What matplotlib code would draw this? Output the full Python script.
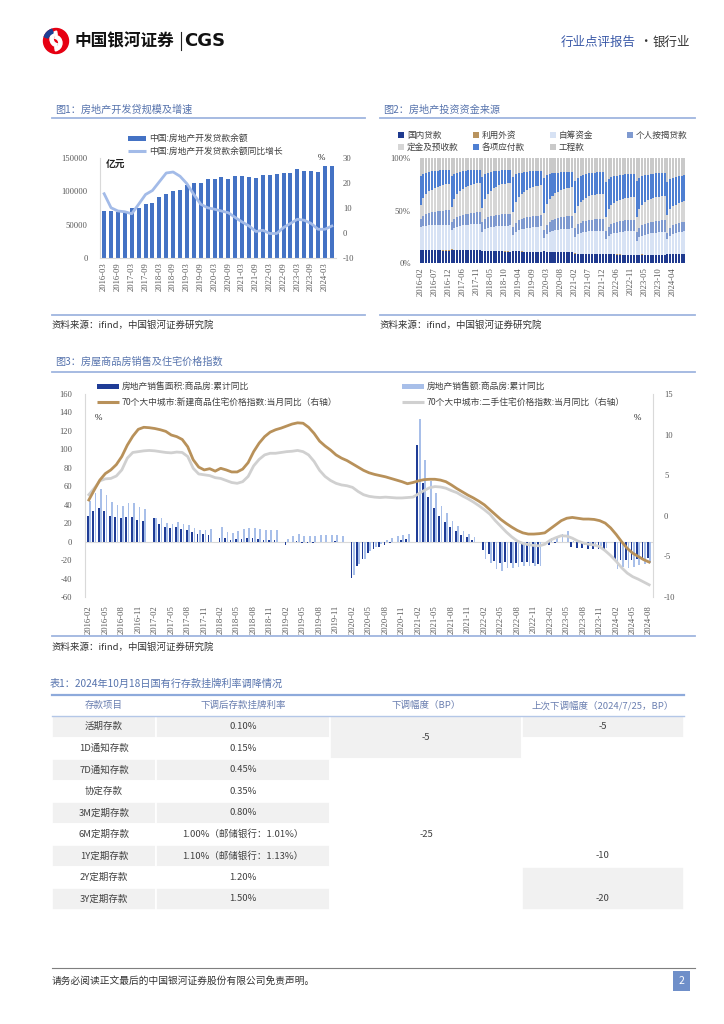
import numpy as np
import pandas as pd
import matplotlib
matplotlib.use("Agg")
import matplotlib.pyplot as plt
from matplotlib.patches import Rectangle, Circle, Wedge

plt.rcParams["font.family"] = ["Noto Sans CJK SC", "DejaVu Sans"]
plt.rcParams["axes.unicode_minus"] = False

# ---------------- 图1 房地产开发贷 (quarterly) ----------------
loan_quarters = pd.date_range("2016-03-01", periods=34, freq="3MS").strftime("%Y-%m")
loan_balance = [70500, 70800, 69500, 70000, 75000, 74800, 80500, 82500, 91000, 96000,
                101000, 102000, 109000, 112000, 112000, 118500, 119000, 121000, 119000, 123500,
                122500, 121000, 120000, 125000, 125000, 126500, 127000, 127000, 133000, 131000,
                131000, 128500, 137500, 137500]
loan_yoy = [15.7, 10.1, 8.8, 8.5, 7.7, 11.5, 15.4, 17.0, 20.5, 24.0,
            24.4, 22.7, 19.7, 15.4, 11.5, 10.1, 9.5, 8.8, 8.1, 6.2,
            4.4, 2.8, 0.6, 1.1, -0.2, -0.2, 2.2, 3.8, 5.5, 5.1,
            3.8, 1.5, 1.5, 2.8]

# ---------------- 图2 房地产投资资金来源 (share, %) ----------------
fund_months = [f"{y}-{m:02d}" for y in range(2016, 2025) for m in range(2, 13)
               if (y, m) <= (2024, 8)]
fund_names = ["国内贷款", "利用外资", "自筹资金", "个人按揭贷款", "定金及预收款", "各项应付款", "工程款"]
domestic_loans = [
    12.4, 12.2, 12.1, 12.0, 12.0, 11.9, 11.9, 11.9, 11.8, 11.8, 11.8,
    12.8, 12.6, 12.5, 12.5, 12.4, 12.4, 12.3, 12.3, 12.2, 12.2, 12.2,
    11.5, 11.3, 11.2, 11.1, 11.0, 11.0, 10.9, 10.9, 10.8, 10.8, 10.8,
    11.2, 11.0, 10.9, 10.8, 10.7, 10.7, 10.6, 10.6, 10.5, 10.5, 10.5,
    11.0, 10.9, 10.8, 10.6, 10.5, 10.4, 10.3, 10.2, 10.1, 10.0, 10.0,
    9.0, 8.9, 8.8, 8.7, 8.6, 8.5, 8.5, 8.4, 8.4, 8.3, 8.3,
    8.2, 8.1, 8.0, 8.0, 7.9, 7.9, 7.8, 7.8, 7.8, 7.8, 7.8,
    8.0, 7.9, 7.9, 7.8, 7.8, 7.8, 7.8, 7.8, 7.8, 7.8, 7.8,
    8.8, 8.8, 8.7, 8.7, 8.6, 8.6, 8.6]
foreign_capital = [
    0.2, 0.2, 0.2, 0.2, 0.2, 0.2, 0.2, 0.2, 0.2, 0.2, 0.2,
    0.2, 0.2, 0.2, 0.2, 0.2, 0.2, 0.2, 0.2, 0.2, 0.2, 0.2,
    0.1, 0.1, 0.1, 0.1, 0.1, 0.1, 0.1, 0.1, 0.1, 0.1, 0.1,
    0.1, 0.1, 0.1, 0.1, 0.1, 0.1, 0.1, 0.1, 0.1, 0.1, 0.1,
    0.1, 0.1, 0.1, 0.1, 0.1, 0.1, 0.1, 0.1, 0.1, 0.1, 0.1,
    0.1, 0.1, 0.1, 0.1, 0.1, 0.1, 0.1, 0.1, 0.1, 0.1, 0.1,
    0.1, 0.1, 0.1, 0.1, 0.1, 0.1, 0.1, 0.1, 0.1, 0.1, 0.1,
    0.1, 0.1, 0.1, 0.1, 0.1, 0.1, 0.1, 0.1, 0.1, 0.1, 0.1,
    0.1, 0.1, 0.1, 0.1, 0.1, 0.1, 0.1]
self_raised = [
    21.4, 22.1, 22.7, 23.1, 23.3, 23.6, 23.7, 23.9, 24.1, 24.2, 24.3,
    18.0, 20.5, 21.8, 22.6, 23.2, 23.6, 24.0, 24.3, 24.6, 24.8, 25.0,
    18.2, 20.3, 21.4, 22.2, 22.8, 23.2, 23.6, 23.9, 24.2, 24.5, 24.8,
    15.0, 18.2, 19.8, 20.8, 21.5, 22.1, 22.6, 23.0, 23.4, 23.8, 24.2,
    13.2, 17.0, 18.5, 19.5, 20.2, 20.8, 21.3, 21.7, 22.1, 22.4, 22.7,
    16.2, 18.3, 19.3, 20.0, 20.6, 21.0, 21.4, 21.7, 22.0, 22.3, 22.5,
    14.3, 17.5, 18.9, 19.8, 20.5, 21.0, 21.5, 21.9, 22.3, 22.6, 22.9,
    13.0, 16.3, 17.7, 18.6, 19.3, 19.9, 20.4, 20.8, 21.2, 21.6, 21.9,
    13.5, 17.0, 18.5, 19.4, 20.2, 20.8, 21.3]
mortgage = [
    8.0, 9.5, 10.5, 11.2, 11.8, 12.3, 12.7, 13.1, 13.5, 13.8, 14.2,
    8.0, 9.0, 9.5, 9.8, 10.1, 10.3, 10.5, 10.7, 10.8, 10.9, 11.0,
    9.0, 9.8, 10.2, 10.4, 10.6, 10.7, 10.8, 10.9, 11.0, 11.0, 11.0,
    8.0, 9.0, 9.5, 9.8, 10.0, 10.1, 10.2, 10.3, 10.4, 10.5, 10.5,
    7.0, 8.8, 9.8, 10.4, 10.8, 11.1, 11.4, 11.6, 11.8, 11.9, 12.0,
    8.0, 9.2, 9.8, 10.2, 10.4, 10.6, 10.7, 10.8, 10.9, 11.0, 11.0,
    7.5, 8.7, 9.3, 9.7, 9.9, 10.1, 10.2, 10.3, 10.4, 10.5, 10.5,
    8.0, 9.2, 9.8, 10.2, 10.4, 10.6, 10.7, 10.8, 10.9, 11.0, 11.0,
    6.5, 7.6, 8.1, 8.4, 8.6, 8.8, 9.0]
deposits_prepay = [
    13.0, 17.0, 19.0, 20.4, 21.4, 22.3, 23.0, 23.6, 24.2, 24.6, 25.0,
    14.0, 19.0, 21.5, 23.2, 24.4, 25.4, 26.2, 26.8, 27.3, 27.7, 28.0,
    13.5, 19.2, 22.0, 24.0, 25.4, 26.5, 27.4, 28.1, 28.7, 29.1, 29.5,
    14.5, 19.5, 22.0, 23.7, 25.0, 26.0, 26.8, 27.4, 27.9, 28.2, 28.5,
    16.0, 19.8, 21.8, 23.2, 24.3, 25.1, 25.7, 26.2, 26.6, 26.8, 27.0,
    14.0, 17.5, 19.3, 20.6, 21.5, 22.2, 22.8, 23.2, 23.6, 23.8, 24.0,
    14.0, 16.7, 18.0, 19.0, 19.7, 20.2, 20.6, 20.9, 21.2, 21.4, 21.5,
    15.0, 17.8, 19.3, 20.3, 21.0, 21.6, 22.1, 22.5, 22.8, 22.9, 23.0,
    16.5, 17.4, 17.9, 18.3, 18.6, 18.8, 19.0]
payables = [
    27.5, 22.5, 20.0, 18.3, 17.0, 16.0, 15.2, 14.6, 14.1, 13.8, 13.5,
    29.5, 23.5, 20.5, 18.4, 16.9, 15.7, 14.7, 13.9, 13.3, 12.9, 12.5,
    30.0, 23.2, 19.8, 17.5, 15.9, 14.7, 13.8, 13.2, 12.8, 12.6, 12.5,
    33.5, 26.5, 22.8, 20.3, 18.4, 17.0, 16.0, 15.2, 14.6, 14.2, 14.0,
    34.0, 27.5, 23.8, 21.3, 19.5, 18.1, 17.0, 16.1, 15.5, 15.2, 15.0,
    31.0, 27.0, 24.8, 23.3, 22.3, 21.6, 21.1, 20.8, 20.6, 20.5, 20.5,
    33.0, 28.5, 26.2, 24.7, 23.8, 23.1, 22.6, 22.3, 22.1, 22.0, 22.0,
    34.0, 29.0, 26.5, 25.0, 24.0, 23.3, 22.8, 22.4, 22.2, 22.1, 22.0,
    31.5, 28.5, 27.0, 26.0, 25.5, 25.2, 25.0]
project_funds = [
    17.5, 15.0, 13.8, 13.0, 12.5, 12.1, 11.8, 11.5, 11.3, 11.1, 11.0,
    17.4, 15.1, 13.9, 13.1, 12.6, 12.2, 11.8, 11.5, 11.3, 11.1, 11.0,
    18.0, 15.3, 14.0, 13.2, 12.6, 12.2, 11.8, 11.5, 11.3, 11.1, 11.0,
    18.0, 15.6, 14.4, 13.7, 13.2, 12.9, 12.6, 12.4, 12.2, 12.1, 12.0,
    19.0, 16.5, 15.3, 14.6, 14.1, 13.8, 13.5, 13.3, 13.1, 13.0, 13.0,
    22.0, 18.5, 16.8, 15.7, 15.0, 14.5, 14.1, 13.9, 13.7, 13.6, 13.5,
    23.0, 19.7, 18.0, 17.0, 16.4, 16.0, 15.7, 15.4, 15.2, 15.1, 15.0,
    22.0, 18.8, 17.2, 16.3, 15.6, 15.2, 14.9, 14.6, 14.3, 14.1, 14.0,
    23.0, 20.0, 18.6, 17.7, 17.0, 16.5, 16.0]
fund_colors = ["#1f3a8f", "#b8935e", "#d7e2f4", "#7f9ad0", "#d6d6d6", "#4e7fd2", "#c9c9c9"]

# ---------------- 图3 商品房销售及住宅价格 (monthly) ----------------
sale_months = pd.date_range("2016-02-01", periods=103, freq="MS").strftime("%Y-%m")
nan = np.nan
area_yoy = [28.2, 33.1, 36.5, 33.2, 27.9, 26.4, 25.5, 26.9, 26.9, 23.5, 22.5,
            nan, 25.1, 19.5, 15.7, 14.3, 16.1, 14.0, 12.7, 10.3, 8.2, 7.9, 7.7,
            nan, 4.1, 3.6, 1.3, 2.9, 3.3, 4.2, 4.0, 2.9, 2.2, 1.4, 1.3,
            nan, -3.6, -0.9, 0.3, -1.6, -1.8, -1.3, -0.6, 0.1, 0.1, 0.2, -0.1,
            nan, -39.9, -26.3, -19.3, -12.3, -8.4, -5.8, -3.3, -1.8, 0.0, 1.3, 3.2,
            nan, 104.9, 63.8, 48.1, 36.3, 27.7, 21.5, 15.9, 11.3, 7.5, 4.8, 1.9,
            nan, -9.6, -13.8, -20.9, -23.6, -22.2, -23.1, -23.0, -22.2, -22.3, -23.3, -24.3,
            nan, -3.6, -1.8, -0.4, -0.9, -5.3, -6.5, -7.1, -7.5, -7.8, -8.0, -8.5,
            nan, -20.5, -19.4, -20.2, -20.3, -19.0, -18.6, -18.0]
sales_yoy = [43.6, 53.0, 56.6, 51.0, 42.6, 40.0, 38.7, 42.0, 41.5, 38.0, 35.0,
             nan, 26.0, 25.6, 20.5, 19.0, 21.6, 19.5, 17.7, 15.0, 12.6, 12.6, 13.4,
             nan, 15.7, 10.2, 9.0, 11.8, 13.2, 14.5, 14.5, 13.3, 12.5, 12.1, 12.2,
             nan, 2.8, 5.6, 8.1, 6.1, 5.6, 6.2, 6.7, 7.1, 7.3, 7.3, 6.5,
             nan, -35.9, -24.7, -18.6, -10.6, -5.4, -2.1, 1.6, 3.7, 5.8, 7.2, 8.7,
             nan, 133.4, 88.5, 65.3, 52.4, 38.9, 30.7, 22.9, 16.6, 11.8, 8.0, 4.8,
             nan, -19.3, -22.7, -29.5, -31.5, -28.9, -28.8, -27.9, -26.3, -26.1, -26.6, -26.7,
             nan, 3.5, 4.1, 8.8, 11.9, 1.1, -1.5, -3.2, -4.6, -4.9, -5.2, -6.5,
             nan, -29.3, -27.6, -28.3, -27.9, -25.0, -24.3, -23.6]
new_home_yoy = [1.95, 3.2, 4.4, 5.2, 5.65, 6.3, 7.3, 8.7, 9.8, 10.65, 10.9, 10.85,
                10.75, 10.6, 10.4, 9.95, 9.75, 9.4, 8.5, 6.9, 6.0, 5.65, 5.8, 5.5,
                5.85, 5.65, 5.4, 5.4, 5.75, 6.55, 7.9, 8.95, 9.75, 10.3, 10.6, 10.8,
                11.05, 11.3, 11.45, 11.4, 10.9, 10.15, 9.2, 8.6, 8.1, 7.5, 7.1, 6.8,
                6.4, 6.0, 5.6, 5.3, 5.1, 4.95, 4.8, 4.6, 4.4, 4.2, 3.95, 4.1,
                4.3, 4.45, 4.5, 4.5, 4.4, 4.2, 3.8, 3.35, 2.95, 2.55, 2.2, 1.8,
                1.35, 0.75, 0.15, -0.45, -0.95, -1.4, -1.8, -2.1, -2.25, -2.25, -2.2, -2.1,
                -1.6, -1.1, -0.6, -0.3, -0.2, -0.3, -0.4, -0.4, -0.45, -0.6, -0.9, -1.5,
                -2.3, -3.2, -4.0, -4.6, -5.0, -5.4, -5.7]
second_home_yoy = [2.6, 3.4, 4.3, 4.55, 4.6, 4.9, 5.65, 7.1, 7.8, 7.9, 8.0, 8.05,
                   8.0, 7.9, 7.8, 7.75, 7.85, 7.8, 7.3, 5.85, 5.15, 5.05, 4.95, 4.7,
                   4.6, 4.35, 4.1, 4.0, 4.2, 4.85, 6.15, 6.95, 7.5, 7.7, 7.7, 7.8,
                   7.9, 7.95, 8.05, 7.9, 7.5, 6.7, 5.6, 4.85, 4.35, 4.0, 3.8, 3.7,
                   3.5, 3.0, 2.6, 2.4, 2.3, 2.25, 2.3, 2.25, 2.2, 2.2, 2.25, 2.3,
                   2.7, 3.1, 3.45, 3.6, 3.55, 3.4, 3.1, 2.85, 2.45, 2.1, 1.7, 1.25,
                   0.75, 0.2, -0.6, -1.3, -2.0, -2.6, -3.1, -3.4, -3.55, -3.65, -3.7, -3.5,
                   -3.0, -2.7, -2.45, -2.5, -2.75, -3.1, -3.35, -3.5, -3.6, -3.8, -4.3, -4.9,
                   -5.6, -6.4, -7.05, -7.5, -7.8, -8.15, -8.5]

# ---------------- 表1 ----------------
table_header = ["存款项目", "下调后存款挂牌利率", "下调幅度（BP）", "上次下调幅度（2024/7/25，BP）"]
deposit_items = ["活期存款", "1D通知存款", "7D通知存款", "协定存款", "3M定期存款",
                 "6M定期存款", "1Y定期存款", "2Y定期存款", "3Y定期存款"]
new_rates = ["0.10%", "0.15%", "0.45%", "0.35%", "0.80%",
             "1.00%（邮储银行：1.01%）", "1.10%（邮储银行：1.13%）", "1.20%", "1.50%"]
cut_now = [(0, 1, "-5"), (2, 8, "-25")]          # merged rows
cut_prev = [(0, 0, "-5"), (1, 6, "-10"), (7, 8, "-20")]

# ---------------- page ----------------
W, H = 724, 1024
fig = plt.figure(figsize=(W / 100, H / 100), dpi=100)
page = fig.add_axes([0, 0, 1, 1])
page.set_xlim(0, W)
page.set_ylim(H, 0)
page.axis("off")

TITLE_C = "#5673ad"
RULE_C = "#9fb5df"
TXT_C = "#404040"
TICK_C = "#595959"
SERIF = ["Liberation Serif", "DejaVu Serif"]


def px_axes(l, t, r, b):
    ax = fig.add_axes([l / W, 1 - b / H, (r - l) / W, (b - t) / H])
    ax.set_facecolor("none")
    return ax


def style_ticks(ax, size=6.2):
    ax.tick_params(length=0, labelsize=size, colors=TICK_C)
    for lab in ax.get_xticklabels() + ax.get_yticklabels():
        lab.set_fontfamily(SERIF)


def legend_box(x, y, color, label, w=18, h=5, fs=6.3):
    page.add_patch(Rectangle((x, y - h / 2), w, h, color=color, lw=0))
    page.text(x + w + 3, y, label, fontsize=fs, va="center", ha="left", color=TXT_C)


def legend_line(x, y, color, label, w=18, fs=6.3):
    page.plot([x, x + w], [y, y], color=color, lw=2.2, solid_capstyle="butt")
    page.text(x + w + 3, y, label, fontsize=fs, va="center", ha="left", color=TXT_C)


def panel_frame(x0, x1, title, y_title, y_top_rule, y_bottom_rule, y_src):
    page.text(x0 + 3, y_title, title, fontsize=7.3, color=TITLE_C, va="center")
    page.plot([x0, x1], [y_top_rule, y_top_rule], color=RULE_C, lw=1.3)
    page.plot([x0, x1], [y_bottom_rule, y_bottom_rule], color=RULE_C, lw=1.3)
    page.text(x0, y_src, "资料来源：ifind，中国银河证券研究院", fontsize=6.8,
              color="#333333", va="center", style="italic")


# header
page.add_patch(Circle((56, 41), 12.5, color="#e60012"))
page.add_patch(Wedge((58, 39), 8, 100, 260, width=3.2, color="white"))
page.add_patch(Wedge((54, 43), 8, -80, 80, width=3.2, color="white"))
page.add_patch(Wedge((56, 41), 12.5, 200, 250, width=4, color="#1d3f94"))
page.text(74, 41, "中国银河证券", fontsize=12, fontweight="bold", color="#111111", va="center")
page.plot([180.5, 180.5], [32, 50], color="#222222", lw=0.8)
page.text(184, 41, "CGS", fontsize=13, fontweight="bold", color="#111111", va="center",
          family=["DejaVu Sans"])
page.text(636, 42, "行业点评报告", fontsize=9, color="#3b5aa8", va="center", ha="right")
page.text(645, 42, "·", fontsize=9, color="#333333", va="center", ha="center")
page.text(690, 42, "银行业", fontsize=9, color="#333333", va="center", ha="right")

# ---------------- 图1 ----------------
panel_frame(52, 365, "图1：房地产开发贷规模及增速", 110, 118, 315, 325)
ax1 = px_axes(100, 158, 336, 258)
x1 = np.arange(len(loan_balance))
ax1.bar(x1, loan_balance, width=0.58, color="#4472c4", zorder=2)
ax1.set_xlim(-0.6, len(x1) - 0.4)
ax1.set_ylim(0, 150000)
ax1.set_yticks([0, 50000, 100000, 150000])
ax1.set_xticks(x1[::2])
ax1.set_xticklabels(loan_quarters[::2], rotation=90)
for s in ["top", "right"]:
    ax1.spines[s].set_visible(False)
for s in ["left", "bottom"]:
    ax1.spines[s].set_color("#d9d9d9")
style_ticks(ax1)
ax1.tick_params(axis="y", pad=9)
ax1.tick_params(axis="x", pad=3)
ax1b = ax1.twinx()
ax1b.set_facecolor("none")
ax1b.plot(x1, loan_yoy, color="#a3bbe8", lw=2.0, zorder=3)
ax1b.set_ylim(-10, 30)
ax1b.set_yticks([-10, 0, 10, 20, 30])
for s in ax1b.spines.values():
    s.set_visible(False)
style_ticks(ax1b)
ax1b.tick_params(axis="y", pad=5)
legend_box(128, 138, "#4472c4", "中国:房地产开发贷款余额")
legend_line(128, 151, "#a3bbe8", "中国:房地产开发贷款余额同比增长")
page.text(106, 164, "亿元", fontsize=7, color="#222222", va="center", fontweight="bold")
page.text(318, 158, "%", fontsize=6.5, color="#222222", va="center", family=SERIF)

# ---------------- 图2 ----------------
panel_frame(380, 695, "图2：房地产投资资金来源", 110, 118, 315, 325)
ax2 = px_axes(419, 158, 686, 263)
fund_table = np.array([domestic_loans, foreign_capital, self_raised, mortgage,
                       deposits_prepay, payables, project_funds])
fund_share = fund_table / fund_table.sum(axis=0) * 100
x2 = np.arange(fund_share.shape[1])
bottom = np.zeros(len(x2))
for vals, color in zip(fund_share, fund_colors):
    ax2.bar(x2, vals, bottom=bottom, width=0.72, color=color, lw=0)
    bottom += vals
ax2.set_xlim(-0.6, len(x2) - 0.4)
ax2.set_ylim(0, 100)
ax2.set_yticks([0, 50, 100])
ax2.set_yticklabels(["0%", "50%", "100%"])
ax2.set_xticks(x2[::5])
ax2.set_xticklabels(fund_months[::5], rotation=90)
for s in ax2.spines.values():
    s.set_visible(False)
style_ticks(ax2)
ax2.tick_params(axis="y", pad=6)
ax2.tick_params(axis="x", pad=3)
leg_x = [398, 473, 550, 627]
for i, (name, color) in enumerate(zip(fund_names, fund_colors)):
    legend_box(leg_x[i % 4], 135 + 12 * (i // 4), color, name, w=6, h=6, fs=6.2)

# ---------------- 图3 ----------------
panel_frame(52, 695, "图3：房屋商品房销售及住宅价格指数", 362, 372, 636, 647)
ax3 = px_axes(85, 394, 653, 597)
x3 = np.arange(len(sale_months))
ax3.bar(x3 - 0.2, area_yoy, width=0.32, color="#1f3c96", lw=0, zorder=2)
ax3.bar(x3 + 0.22, sales_yoy, width=0.32, color="#a8bfe9", lw=0, zorder=2)
ax3.axhline(0, color="#d9d9d9", lw=0.8, zorder=1)
ax3.set_xlim(-0.7, len(x3) - 0.3)
ax3.set_ylim(-60, 160)
ax3.set_yticks(np.arange(-60, 161, 20))
ax3.set_xticks(x3[::3])
ax3.set_xticklabels(sale_months[::3], rotation=90)
for s in ["top", "right", "bottom"]:
    ax3.spines[s].set_visible(False)
ax3.spines["left"].set_color("#d9d9d9")
style_ticks(ax3)
ax3.tick_params(axis="y", pad=9)
ax3.tick_params(axis="x", pad=6)
ax3b = ax3.twinx()
ax3b.set_facecolor("none")
ax3b.plot(x3, second_home_yoy, color="#d0d0d0", lw=2.0)
ax3b.plot(x3, new_home_yoy, color="#b8915a", lw=2.0)
ax3b.set_ylim(-10, 15)
ax3b.set_yticks([-10, -5, 0, 5, 10, 15])
for s in ["top", "left", "bottom"]:
    ax3b.spines[s].set_visible(False)
ax3b.spines["right"].set_color("#d9d9d9")
style_ticks(ax3b)
ax3b.tick_params(axis="y", pad=8)
legend_box(97, 386, "#1f3c96", "房地产销售面积:商品房:累计同比", w=22)
legend_box(402, 386, "#a8bfe9", "房地产销售额:商品房:累计同比", w=22)
legend_line(97, 402, "#b8915a", "70个大中城市:新建商品住宅价格指数:当月同比（右轴）", w=22)
legend_line(402, 402, "#d0d0d0", "70个大中城市:二手住宅价格指数:当月同比（右轴）", w=22)
page.text(95, 418, "%", fontsize=6.5, color="#222222", va="center", family=SERIF)
page.text(634, 418, "%", fontsize=6.5, color="#222222", va="center", family=SERIF)

# ---------------- 表1 ----------------
page.text(50, 684, "表1：2024年10月18日国有行存款挂牌利率调降情况", fontsize=7.3,
          color=TITLE_C, va="center")
cols = [52, 156, 330, 522, 684]
row_top = 716
row_h = 21.5
GRAY = "#f1f1f1"
page.plot([cols[0], cols[-1]], [694.5, 694.5], color="#8eaadb", lw=1.6)
for j, head in enumerate(table_header):
    page.text((cols[j] + cols[j + 1]) / 2, 705.5, head, fontsize=6.8, color="#6a7fb0",
              ha="center", va="center")
for i, (item, rate) in enumerate(zip(deposit_items, new_rates)):
    y0 = row_top + i * row_h
    fill = GRAY if i % 2 == 0 else "white"
    for j, txt in enumerate([item, rate]):
        page.add_patch(Rectangle((cols[j], y0), cols[j + 1] - cols[j], row_h,
                                 facecolor=fill, edgecolor="white", lw=1.2))
        page.text((cols[j] + cols[j + 1]) / 2, y0 + row_h / 2, txt, fontsize=6.8,
                  color=TXT_C, ha="center", va="center")
for k, (r0, r1, txt) in enumerate(cut_now):
    fill = GRAY if k % 2 == 0 else "white"
    page.add_patch(Rectangle((cols[2], row_top + r0 * row_h), cols[3] - cols[2],
                             (r1 - r0 + 1) * row_h, facecolor=fill, edgecolor="white", lw=1.2))
    page.text((cols[2] + cols[3]) / 2, row_top + (r0 + r1 + 1) / 2 * row_h, txt,
              fontsize=6.8, color=TXT_C, ha="center", va="center")
for k, (r0, r1, txt) in enumerate(cut_prev):
    fill = GRAY if k % 2 == 0 else "white"
    page.add_patch(Rectangle((cols[3], row_top + r0 * row_h), cols[4] - cols[3],
                             (r1 - r0 + 1) * row_h, facecolor=fill, edgecolor="white", lw=1.2))
    page.text((cols[3] + cols[4]) / 2, row_top + (r1 + 0.5) * row_h, txt,
              fontsize=6.8, color=TXT_C, ha="center", va="center")
page.plot([cols[0], cols[-1]], [row_top, row_top], color="#b4c7e7", lw=1.0)

# ---------------- footer ----------------
page.plot([52, 695], [968, 968], color="#7f7f7f", lw=0.8)
page.text(52, 981, "请务必阅读正文最后的中国银河证券股份有限公司免责声明。", fontsize=7,
          color="#333333", va="center")
page.add_patch(Rectangle((673, 971), 17, 20, color="#6f8fc9", lw=0))
page.text(681.5, 981, "2", fontsize=7.5, color="white", ha="center", va="center")

fig.savefig("out.png", dpi=100)
